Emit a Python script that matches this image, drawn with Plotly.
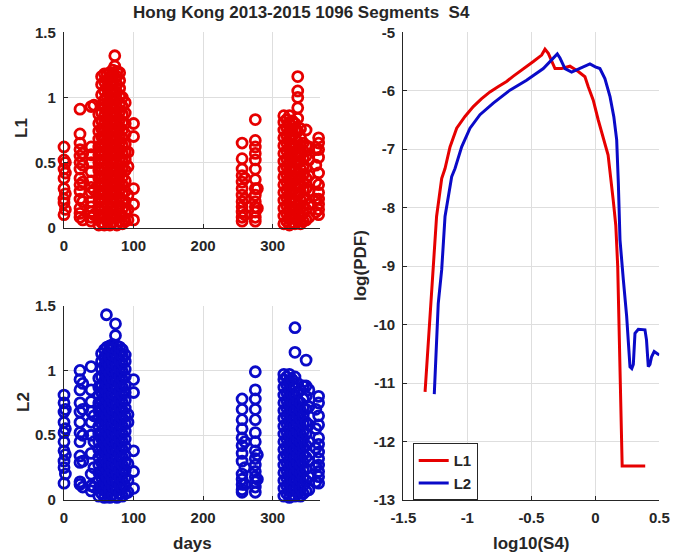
import plotly.graph_objects as go

# ---------------- data ----------------
# Left panels: days (x) and scintillation values, grouped per day column
l1_days = [0, 2, 23, 27, 39, 43,
           50, 54, 58, 62, 66, 70, 73, 76, 80, 84, 88, 92, 100,
           256, 260, 275, 278,
           316, 320, 324, 328, 332, 336, 340, 344, 348, 352, 362, 366]
l1_cols = [
    [0.10, 0.19, 0.22, 0.30, 0.38, 0.45, 0.52, 0.62],
    [0.14, 0.26, 0.42, 0.50],
    [0.08, 0.11, 0.15, 0.22, 0.28, 0.33, 0.38, 0.45, 0.50, 0.55, 0.60, 0.65, 0.72, 0.91],
    [0.06, 0.20, 0.35, 0.48, 0.57],
    [0.05, 0.08, 0.12, 0.16, 0.20, 0.27, 0.31, 0.36, 0.43, 0.50, 0.56, 0.62, 0.93],
    [0.10, 0.29, 0.94],
    [0.02, 0.08, 0.14, 0.20, 0.26, 0.32, 0.38, 0.44, 0.50, 0.56, 0.62, 0.68, 0.74, 0.80, 0.87],
    [0.04, 0.10, 0.16, 0.22, 0.28, 0.34, 0.40, 0.46, 0.52, 0.58, 0.64, 0.70, 0.76, 0.82, 0.88, 0.94, 1.02, 1.10, 1.16],
    [0.02, 0.08, 0.14, 0.20, 0.26, 0.32, 0.38, 0.44, 0.50, 0.56, 0.62, 0.68, 0.74, 0.80, 0.86, 0.92, 0.98, 1.05, 1.12, 1.18],
    [0.05, 0.11, 0.17, 0.23, 0.29, 0.35, 0.41, 0.47, 0.53, 0.59, 0.65, 0.71, 0.77, 0.83, 0.89, 0.95, 1.01, 1.07, 1.13, 1.18],
    [0.02, 0.08, 0.14, 0.20, 0.26, 0.32, 0.38, 0.44, 0.50, 0.56, 0.62, 0.68, 0.74, 0.80, 0.86, 0.92, 0.98, 1.04, 1.10, 1.16, 1.19],
    [0.04, 0.10, 0.16, 0.22, 0.28, 0.34, 0.40, 0.46, 0.52, 0.58, 0.64, 0.70, 0.76, 0.82, 0.88, 0.94, 1.00, 1.06, 1.12, 1.18, 1.21],
    [1.32, 1.24],
    [0.02, 0.08, 0.14, 0.20, 0.26, 0.32, 0.38, 0.44, 0.50, 0.56, 0.62, 0.68, 0.74, 0.80, 0.86, 0.92, 0.98, 1.04, 1.10, 1.16, 1.20],
    [0.05, 0.11, 0.17, 0.23, 0.29, 0.35, 0.41, 0.47, 0.53, 0.59, 0.65, 0.71, 0.77, 0.83, 0.89, 0.95, 1.01, 1.07, 1.13, 1.19],
    [0.03, 0.09, 0.15, 0.21, 0.27, 0.33, 0.39, 0.45, 0.51, 0.57, 0.63, 0.69, 0.75, 0.81, 0.87, 0.93, 1.00],
    [0.05, 0.12, 0.20, 0.28, 0.36, 0.44, 0.52, 0.58, 0.64, 0.72, 0.80, 0.88, 0.96],
    [0.06, 0.14, 0.25, 0.47, 0.58],
    [0.06, 0.18, 0.30, 0.70, 0.80],
    [0.05, 0.08, 0.12, 0.16, 0.20, 0.25, 0.30, 0.35, 0.40, 0.45, 0.53, 0.65],
    [0.10, 0.22, 0.38],
    [0.05, 0.08, 0.12, 0.16, 0.20, 0.25, 0.30, 0.37, 0.45, 0.52, 0.57, 0.62, 0.67, 0.83],
    [0.15, 0.30],
    [0.03, 0.09, 0.15, 0.21, 0.27, 0.33, 0.39, 0.45, 0.51, 0.57, 0.63, 0.69, 0.75, 0.81, 0.86],
    [0.05, 0.11, 0.17, 0.23, 0.29, 0.35, 0.41, 0.47, 0.53, 0.59, 0.65, 0.71, 0.77, 0.83],
    [0.02, 0.08, 0.14, 0.20, 0.26, 0.32, 0.38, 0.44, 0.50, 0.56, 0.62, 0.68, 0.74, 0.80, 0.86],
    [0.04, 0.10, 0.16, 0.22, 0.28, 0.34, 0.40, 0.46, 0.52, 0.58, 0.64, 0.70, 0.76, 0.82],
    [0.03, 0.09, 0.15, 0.21, 0.27, 0.33, 0.39, 0.45, 0.51, 0.57, 0.63, 0.69, 0.75, 0.80],
    [0.05, 0.11, 0.17, 0.25, 0.33, 0.41, 0.50, 0.58, 0.66, 0.74, 0.84, 0.92, 1.00, 1.05, 1.16],
    [0.03, 0.09, 0.15, 0.21, 0.27, 0.33, 0.39, 0.45, 0.51, 0.57, 0.63, 0.69, 0.76],
    [0.05, 0.11, 0.17, 0.23, 0.29, 0.35, 0.41, 0.47, 0.53, 0.59, 0.65],
    [0.06, 0.14, 0.22, 0.30, 0.38, 0.46, 0.55, 0.63, 0.75],
    [0.08, 0.18, 0.28, 0.40, 0.52, 0.62],
    [0.12, 0.22, 0.35, 0.48, 0.60],
    [0.10, 0.14, 0.18, 0.22, 0.27, 0.33, 0.42, 0.54, 0.60, 0.65, 0.69],
]

l2_days = [0, 2, 23, 27, 39, 43,
           50, 54, 58, 61, 62, 66, 70, 74, 76, 80, 84, 88, 92, 100,
           256, 260, 275, 278,
           316, 320, 324, 328, 332, 336, 340, 344, 348, 352, 362, 366]
l2_cols = [
    [0.13, 0.25, 0.30, 0.38, 0.45, 0.52, 0.60, 0.68, 0.75, 0.81],
    [0.20, 0.35, 0.55, 0.70],
    [0.12, 0.14, 0.29, 0.34, 0.45, 0.52, 0.60, 0.68, 0.75, 0.85, 0.93, 1.00],
    [0.10, 0.30, 0.50, 0.70, 0.90],
    [0.07, 0.11, 0.20, 0.36, 0.50, 0.60, 0.68, 0.76, 0.85, 1.03],
    [0.10, 0.25, 0.45, 0.65],
    [0.03, 0.09, 0.15, 0.21, 0.27, 0.33, 0.39, 0.45, 0.51, 0.57, 0.63, 0.69, 0.75, 0.81, 0.87, 0.94],
    [0.05, 0.11, 0.17, 0.23, 0.29, 0.35, 0.41, 0.47, 0.53, 0.59, 0.65, 0.71, 0.77, 0.83, 0.89, 0.95, 1.01, 1.07, 1.13],
    [0.02, 0.08, 0.14, 0.20, 0.26, 0.32, 0.38, 0.44, 0.50, 0.56, 0.62, 0.68, 0.74, 0.80, 0.86, 0.92, 0.98, 1.04, 1.10, 1.16],
    [1.43],
    [0.05, 0.11, 0.17, 0.23, 0.29, 0.35, 0.41, 0.47, 0.53, 0.59, 0.65, 0.71, 0.77, 0.83, 0.89, 0.95, 1.01, 1.07, 1.13, 1.18],
    [0.02, 0.08, 0.14, 0.20, 0.26, 0.32, 0.38, 0.44, 0.50, 0.56, 0.62, 0.68, 0.74, 0.80, 0.86, 0.92, 0.98, 1.04, 1.10, 1.16, 1.19],
    [0.04, 0.10, 0.16, 0.22, 0.28, 0.34, 0.40, 0.46, 0.52, 0.58, 0.64, 0.70, 0.76, 0.82, 0.88, 0.94, 1.00, 1.06, 1.12, 1.18, 1.20],
    [1.36, 1.27],
    [0.02, 0.08, 0.14, 0.20, 0.26, 0.32, 0.38, 0.44, 0.50, 0.56, 0.62, 0.68, 0.74, 0.80, 0.86, 0.92, 0.98, 1.04, 1.10, 1.16, 1.19],
    [0.05, 0.11, 0.17, 0.23, 0.29, 0.35, 0.41, 0.47, 0.53, 0.59, 0.65, 0.71, 0.77, 0.83, 0.89, 0.95, 1.01, 1.07, 1.13, 1.18],
    [0.03, 0.09, 0.15, 0.21, 0.27, 0.33, 0.39, 0.45, 0.51, 0.57, 0.63, 0.69, 0.75, 0.81, 0.87, 0.93, 0.99, 1.05, 1.11, 1.16],
    [0.05, 0.11, 0.17, 0.23, 0.29, 0.35, 0.41, 0.47, 0.53, 0.59, 0.65, 0.71, 0.77, 0.83, 0.89, 0.95, 1.01, 1.07, 1.12],
    [0.06, 0.15, 0.28, 0.60, 0.66],
    [0.09, 0.22, 0.38, 0.83, 0.93],
    [0.06, 0.08, 0.12, 0.16, 0.20, 0.30, 0.36, 0.42, 0.48, 0.55, 0.62, 0.70, 0.78],
    [0.12, 0.25, 0.45],
    [0.06, 0.10, 0.14, 0.18, 0.22, 0.27, 0.32, 0.38, 0.45, 0.52, 0.62, 0.70, 0.78, 0.85, 0.99],
    [0.16, 0.35],
    [0.03, 0.09, 0.15, 0.21, 0.27, 0.33, 0.39, 0.45, 0.51, 0.57, 0.63, 0.69, 0.75, 0.81, 0.87, 0.93, 0.97],
    [0.05, 0.11, 0.17, 0.23, 0.29, 0.35, 0.41, 0.47, 0.53, 0.59, 0.65, 0.71, 0.77, 0.83, 0.89, 0.95],
    [0.02, 0.08, 0.14, 0.20, 0.26, 0.32, 0.38, 0.44, 0.50, 0.56, 0.62, 0.68, 0.74, 0.80, 0.86, 0.92, 0.97],
    [0.04, 0.10, 0.16, 0.22, 0.28, 0.34, 0.40, 0.46, 0.52, 0.58, 0.64, 0.70, 0.76, 0.82, 0.88, 0.93],
    [0.03, 0.09, 0.15, 0.21, 0.27, 0.33, 0.39, 0.45, 0.51, 0.57, 0.63, 0.69, 0.75, 0.81, 0.87, 0.95, 1.14, 1.33],
    [0.05, 0.11, 0.17, 0.23, 0.29, 0.35, 0.41, 0.47, 0.53, 0.59, 0.65, 0.71, 0.77, 0.83, 0.90],
    [0.03, 0.09, 0.15, 0.21, 0.27, 0.33, 0.39, 0.45, 0.51, 0.57, 0.63, 0.69, 0.75, 0.85],
    [0.05, 0.11, 0.17, 0.23, 0.29, 0.35, 0.41, 0.47, 0.53, 0.59, 0.65, 0.71, 0.78, 0.88],
    [0.07, 0.15, 0.24, 0.33, 0.42, 0.51, 0.60, 0.70, 0.80, 0.88, 1.08],
    [0.08, 0.18, 0.30, 0.45, 0.58, 0.72, 0.85],
    [0.14, 0.26, 0.40, 0.55, 0.70],
    [0.13, 0.18, 0.22, 0.27, 0.32, 0.37, 0.43, 0.48, 0.58, 0.65, 0.75, 0.80],
]

# Right panel: log(PDF) versus log10(S4)
l1_s4 = [-1.33, -1.30, -1.27, -1.24, -1.20, -1.174, -1.135, -1.083, -1.018, -0.953,
         -0.89, -0.823, -0.76, -0.693, -0.64, -0.588, -0.53, -0.484, -0.419, -0.393,
         -0.367, -0.315, -0.263, -0.198, -0.133, -0.081, -0.055, -0.016, 0.023, 0.055,
         0.10, 0.14, 0.16, 0.175, 0.188, 0.198, 0.21, 0.25, 0.30, 0.39]
l1_pdf = [-11.15, -10.15, -9.06, -8.15, -7.50, -7.33, -6.96, -6.64, -6.44, -6.27,
          -6.14, -6.02, -5.93, -5.84, -5.75, -5.67, -5.58, -5.50, -5.39, -5.29,
          -5.36, -5.62, -5.62, -5.58, -5.67, -5.76, -5.93, -6.16, -6.50, -6.75,
          -7.10, -7.87, -8.30, -9.00, -10.20, -11.30, -12.42, -12.42, -12.42, -12.42]

l2_s4 = [-1.258, -1.227, -1.20, -1.174, -1.122, -1.096, -1.044, -0.979, -0.901, -0.797,
         -0.667, -0.537, -0.406, -0.315, -0.297, -0.276, -0.237, -0.185, -0.12, -0.042,
         0.0, 0.036, 0.075, 0.115, 0.145, 0.167, 0.18, 0.193, 0.219, 0.245,
         0.271, 0.285, 0.297, 0.31, 0.336, 0.388, 0.40, 0.414, 0.427, 0.44,
         0.46, 0.48, 0.50]
l2_pdf = [-11.19, -9.64, -9.06, -8.15, -7.47, -7.33, -6.96, -6.64, -6.41, -6.21,
          -5.99, -5.82, -5.62, -5.42, -5.37, -5.44, -5.62, -5.68, -5.62, -5.54,
          -5.59, -5.62, -5.79, -6.10, -6.45, -6.84, -7.58, -8.55, -9.23, -9.86,
          -10.72, -10.75, -10.68, -10.15, -10.08, -10.09, -10.26, -10.72, -10.68, -10.55,
          -10.46, -10.49, -10.52]

days_ticks = [0, 100, 200, 300]
days_ticktext = ["0", "100", "200", "300"]
amp_ticks = [0, 0.5, 1, 1.5]
amp_ticktext = ["0", "0.5", "1", "1.5"]
s4_ticks = [-1.5, -1, -0.5, 0, 0.5]
s4_ticktext = ["-1.5", "-1", "-0.5", "0", "0.5"]
pdf_ticks = [-13, -12, -11, -10, -9, -8, -7, -6, -5]
pdf_ticktext = ["-13", "-12", "-11", "-10", "-9", "-8", "-7", "-6", "-5"]


def flatten(days, cols):
    xs, ys = [], []
    for d, vs in zip(days, cols):
        xs += [d] * len(vs)
        ys += vs
    return xs, ys


l1x, l1y = flatten(l1_days, l1_cols)
l2x, l2y = flatten(l2_days, l2_cols)

RED = "#e60000"
BLUE = "#0a0ac8"
AX = "#262626"
FONT = "Liberation Sans, Arial, sans-serif"
W, H = 688, 555

fig = go.Figure()
fig.add_trace(go.Scatter(x=l1x, y=l1y, mode="markers", xaxis="x", yaxis="y",
                         marker=dict(symbol="circle-open", size=10, color=RED,
                                     line=dict(width=2.8, color=RED)),
                         showlegend=False, cliponaxis=False))
fig.add_trace(go.Scatter(x=l2x, y=l2y, mode="markers", xaxis="x2", yaxis="y2",
                         marker=dict(symbol="circle-open", size=10, color=BLUE,
                                     line=dict(width=2.8, color=BLUE)),
                         showlegend=False, cliponaxis=False))
fig.add_trace(go.Scatter(x=l1_s4, y=l1_pdf, mode="lines", xaxis="x3", yaxis="y3",
                         name="L1", line=dict(color=RED, width=3)))
fig.add_trace(go.Scatter(x=l2_s4, y=l2_pdf, mode="lines", xaxis="x3", yaxis="y3",
                         name="L2", line=dict(color=BLUE, width=3)))

common = dict(showline=True, linecolor=AX, linewidth=1.2, mirror=False,
              ticks="inside", ticklen=4, tickcolor=AX, tickwidth=1,
              showgrid=True, gridcolor="#dedede", gridwidth=1, zeroline=False,
              tickfont=dict(family=FONT, size=15, color=AX, weight="bold"),
              tickmode="array", automargin=False, layer="above traces")

xl = [64 / W, 320 / W]
xr = [403.3 / W, 659.3 / W]
y_top = [1 - 227.7 / H, 1 - 32.3 / H]
y_bot = [1 - 500 / H, 1 - 305.7 / H]
y_right = [1 - 500 / H, 1 - 32.3 / H]

fig.update_layout(
    template="none",
    width=W, height=H, autosize=False,
    margin=dict(l=0, r=0, t=0, b=0, pad=0, autoexpand=False),
    paper_bgcolor="white", plot_bgcolor="white",
    xaxis=dict(domain=xl, range=[0, 368], anchor="y", tickvals=days_ticks,
               ticktext=days_ticktext, ticklabelstandoff=4, **common),
    yaxis=dict(domain=y_top, range=[0, 1.5], anchor="x", tickvals=amp_ticks,
               ticktext=amp_ticktext, ticklabelstandoff=4, **common),
    xaxis2=dict(domain=xl, range=[0, 368], anchor="y2", tickvals=days_ticks,
                ticktext=days_ticktext, ticklabelstandoff=4, **common),
    yaxis2=dict(domain=y_bot, range=[0, 1.5], anchor="x2", tickvals=amp_ticks,
                ticktext=amp_ticktext, ticklabelstandoff=4, **common),
    xaxis3=dict(domain=xr, range=[-1.5, 0.5], anchor="y3", tickvals=s4_ticks,
                ticktext=s4_ticktext, ticklabelstandoff=4, **common),
    yaxis3=dict(domain=y_right, range=[-13, -5], anchor="x3", tickvals=pdf_ticks,
                ticktext=pdf_ticktext, ticklabelstandoff=4, **common),
    legend=dict(x=412.7 / W, y=1 - 443.3 / H, xanchor="left", yanchor="top",
                bgcolor="white", bordercolor=AX, borderwidth=1,
                font=dict(family=FONT, size=15, color=AX, weight="bold"),
                tracegroupgap=0),
    showlegend=True,
)

lab = dict(family=FONT, size=17, color=AX, weight="bold")
ann = [
    dict(text="Hong Kong 2013-2015 1096 Segments\u00a0 S4", x=301 / W, y=1 - 13 / H,
         font=dict(family=FONT, size=17, color=AX, weight="bold")),
    dict(text="L1", x=22 / W, y=1 - 128 / H, textangle=-90, font=lab),
    dict(text="L2", x=23 / W, y=1 - 402 / H, textangle=-90, font=lab),
    dict(text="days", x=192 / W, y=1 - 543 / H, font=lab),
    dict(text="log(PDF)", x=360 / W, y=1 - 266 / H, textangle=-90, font=lab),
    dict(text="log10(S4)", x=531 / W, y=1 - 543 / H, font=lab),
]
for a in ann:
    fig.add_annotation(xref="paper", yref="paper", xanchor="center", yanchor="middle",
                       showarrow=False, **a)

fig.write_html("out.html",
               post_script="document.body.style.margin='0';document.body.style.padding='0';")
